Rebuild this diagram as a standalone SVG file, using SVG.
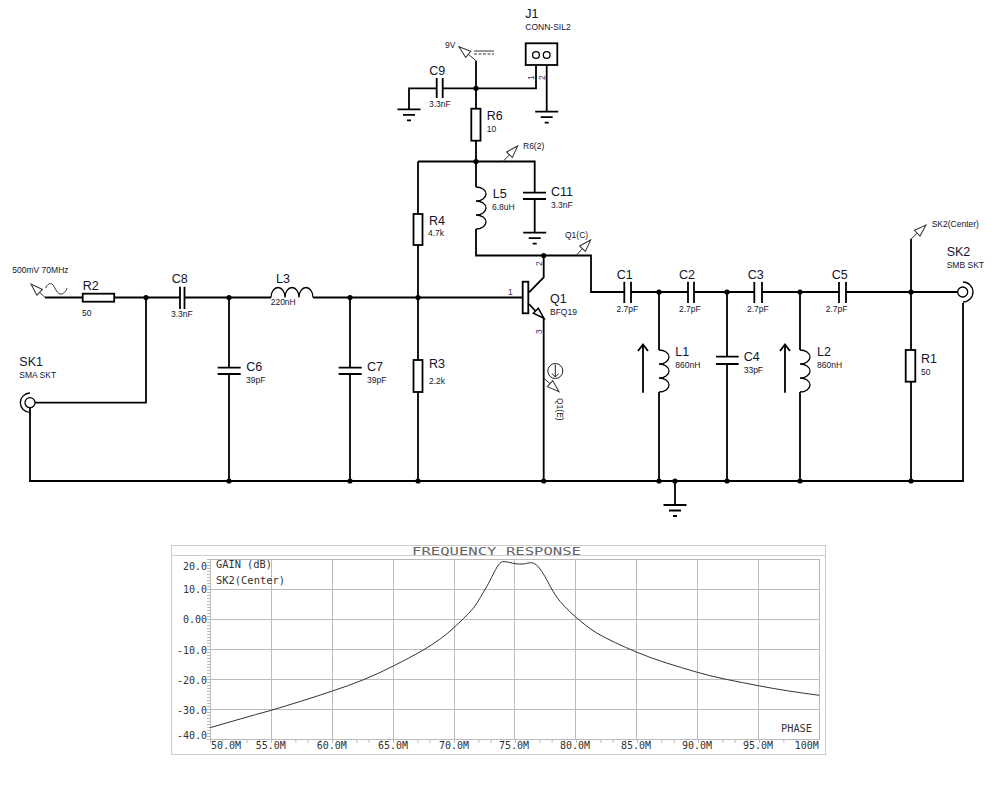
<svg xmlns="http://www.w3.org/2000/svg" width="1006" height="811" viewBox="0 0 1006 811">
<style>
text{font-family:"Liberation Sans",Arial,sans-serif;fill:#14142e}
.n{font-size:12.5px}
.v{font-size:8.5px}
.p{font-size:8.5px;fill:#3a2a6a}
.w{fill:none;stroke:#000;stroke-width:1.8}
.s{fill:#fff;stroke:#000;stroke-width:1.8}
.l{fill:none;stroke:#000;stroke-width:1.300}
.pr{fill:none;stroke:#333;stroke-width:1;marker-end:url(#probe)}
.g{fill:none;stroke:#bbb;stroke-width:1}
.o{fill:none;stroke:#ccc;stroke-width:1}
.m{font-family:"DejaVu Sans Mono",monospace;font-size:10px;fill:#333}
.t{font-family:"DejaVu Sans Mono",monospace;font-size:10px;fill:#666}
</style>
<defs>
<marker id="probe" markerUnits="userSpaceOnUse" markerWidth="14" markerHeight="10" viewBox="-1 -1 14 10" refX="12" refY="4" orient="auto"><path d="M0,0 L12,4 L0,8 Z" fill="#fff" stroke="#333" stroke-width="1"/></marker>
<g id="gnd"><path class="w" d="M-11.500,0 H11.500 M-6,5.500 H6 M-2,11 H2"/></g>
<circle id="j" r="2.600" fill="#000"/>
<path id="ind" class="l" d="M0,0 a10,7 0 0 1 0,14 a10,7 0 0 1 0,14 a10,7 0 0 1 0,14"/>
</defs>
<g id="connectors">
<path class="w" d="M45,297.500 H82.500 M114,297.500 H180 M184.500,297.500 H271 M313,297.500 H522.700"/>
<path class="w" d="M146,297.500 V402.700 H35 M30,408 V481 H963 V303"/>
<path class="w" d="M229,297.500 V367.700 M229,374 V481 M350,297.500 V367.700 M350,374 V481"/>
<path class="w" d="M418,161.500 V214 M418,245 V360 M418,392 V481"/>
<path class="w" d="M476,60.700 V108.700 M476,140.700 V187 M476,229 V255.500 H591 V292 H624.300 M631,292 H688 M694,292 H754.300 M762,292 H839 M846,292 H957.500"/>
<path class="w" d="M418,161.500 H534.700 V192.700 M534.700,199 V232.700"/>
<path class="w" d="M409,109.300 V88.300 H436.700 M442.700,88.300 H536 V58.500 M546.700,58.500 V111.700"/>
<path class="w" d="M543.700,255.500 V277.300 L529,292.300 M543.700,318.300 V481"/>
<path class="w" d="M659,292 V350 M659,392 V481 M727,292 V356.700 M727,364 V481 M800,292 V350 M800,392 V481 M911,239 V350 M911,382 V481 M675,481 V505"/>
<path class="pr" d="M476,60.700 L459,46.700"/>
<path class="pr" d="M503,161.500 L517.700,146"/>
<path class="pr" d="M576,255.500 L590.700,240"/>
<path class="pr" d="M543.700,378 L559,391.700"/>
<path class="pr" d="M911,239 L926,225"/>
<path class="pr" d="M45,297.500 L31,284"/>
<g fill="#000">
<use href="#j" x="146" y="297.500"/><use href="#j" x="229" y="297.500"/><use href="#j" x="350" y="297.500"/><use href="#j" x="418" y="297.500"/>
<use href="#j" x="476" y="88.300"/><use href="#j" x="476" y="161.500"/><use href="#j" x="543.700" y="255.500"/>
<use href="#j" x="659" y="292"/><use href="#j" x="727" y="292"/><use href="#j" x="800" y="292"/><use href="#j" x="911" y="292"/>
<use href="#j" x="229" y="481"/><use href="#j" x="350" y="481"/><use href="#j" x="418" y="481"/><use href="#j" x="543.700" y="481"/><use href="#j" x="659" y="481"/><use href="#j" x="675" y="481"/><use href="#j" x="727" y="481"/><use href="#j" x="800" y="481"/><use href="#j" x="911" y="481"/>
</g>
</g>
<g id="V1"><path fill="none" stroke="#333" d="M45.700,288 C47,284 50,283 52,284 C55,286 56,293 60,294 C63,294.500 66,292 67,288"/><text class="v" x="12.300" y="273">500mV 70MHz</text></g>
<g id="R2"><rect class="s" x="82.700" y="293.700" width="31.500" height="8"/><text class="n" x="82.700" y="290">R2</text><text class="v" x="82" y="316">50</text></g>
<g id="C8"><path class="w" d="M180,286.700 V309 M184.500,286.700 V309"/><text class="n" x="171.700" y="283">C8</text><text class="v" x="171" y="316.700">3.3nF</text></g>
<g id="L3"><path class="l" d="M271,297.500 a7,10 0 0 1 14,0 a7,10 0 0 1 14,0 a7,10 0 0 1 14,0"/><text class="n" x="276" y="283.300">L3</text><text class="v" x="270.700" y="305.300">220nH</text></g>
<g id="SK1"><circle class="l" cx="30" cy="402.700" r="5"/><path class="l" d="M30,393 A9.700,9.700 0 0 0 30,412.400"/><text class="n" x="19.300" y="366">SK1</text><text class="v" x="19.300" y="378">SMA SKT</text></g>
<g id="C6"><path class="w" d="M217.700,367.700 H240.700 M217.700,374 H240.700"/><text class="n" x="246.300" y="370.700">C6</text><text class="v" x="246" y="382.700">39pF</text></g>
<g id="C7"><path class="w" d="M338.700,367.700 H361.700 M338.700,374 H361.700"/><text class="n" x="367" y="370.700">C7</text><text class="v" x="367" y="382.700">39pF</text></g>
<g id="R3"><rect class="s" x="413.500" y="360" width="9" height="32"/><text class="n" x="429" y="367.500">R3</text><text class="v" x="429" y="384">2.2k</text></g>
<g id="R4"><rect class="s" x="413.500" y="214" width="9" height="31"/><text class="n" x="429" y="225">R4</text><text class="v" x="428" y="236.300">4.7k</text></g>
<g id="R6"><rect class="s" x="471.300" y="108.700" width="9.200" height="32"/><text class="n" x="486.700" y="120">R6</text><text class="v" x="486.700" y="132">10</text></g>
<g id="C9"><path class="w" d="M436.700,78 V98 M442.700,78 V98"/><use href="#gnd" x="409" y="109.300"/><text class="n" x="429.300" y="75.300">C9</text><text class="v" x="429" y="107.300">3.3nF</text></g>
<g id="VDD"><text class="v" x="445" y="48">9V</text><path stroke="#333" stroke-width="1" fill="none" d="M474,51 H494"/><path stroke="#333" stroke-width="1" fill="none" stroke-dasharray="3 1.500" d="M474,54 H494"/></g>
<g id="J1"><rect x="525.700" y="43.300" width="31.600" height="21.700" fill="#fff" stroke="#000" stroke-width="1.800"/><circle class="s" style="stroke-width:1.300" cx="536" cy="55" r="3.400"/><circle class="s" style="stroke-width:1.300" cx="546.700" cy="55" r="3.400"/><use href="#gnd" x="546.700" y="111.700"/><text class="n" x="525.300" y="17.700">J1</text><text class="v" x="525.300" y="30">CONN-SIL2</text><text class="p" transform="translate(534,80) rotate(-90)">1</text><text class="p" transform="translate(544.500,80) rotate(-90)">2</text></g>
<g id="L5"><use href="#ind" x="476" y="187"/><text class="n" x="492.700" y="197.700">L5</text><text class="v" x="492" y="210.300">6.8uH</text></g>
<g id="C11"><path class="w" d="M523,192.700 H546 M523,199 H546"/><use href="#gnd" x="534.700" y="232.700"/><text class="n" x="551" y="195.700">C11</text><text class="v" x="551" y="207.700">3.3nF</text><text class="v" x="523" y="149">R6(2)</text></g>
<g id="Q1"><rect class="s" x="522.700" y="281.700" width="5.600" height="31.600"/><path class="w" d="M529,304 L535.500,311"/><path class="s" style="stroke-width:1.500" d="M544,318.300 L538.300,308.300 L533.300,313.300 Z"/><text class="n" x="550" y="303.300">Q1</text><text class="v" x="550" y="314.700">BFQ19</text><text class="p" x="508" y="295">1</text><text class="p" transform="translate(541.500,266) rotate(-90)">2</text><text class="p" transform="translate(541.500,334) rotate(-90)">3</text><text class="v" x="565" y="238">Q1(C)</text></g>
<g id="AM1"><circle cx="555.300" cy="371" r="7.500" fill="#fff" stroke="#222" stroke-width="1"/><path fill="none" stroke="#222" stroke-width="1" d="M555.300,364.500 V377 M552,373.500 L555.300,377 L558.600,373.500"/><text class="v" transform="translate(557,398) rotate(90)">Q1(E)</text></g>
<g id="C1"><path class="w" d="M624.300,281.700 V303 M631,281.700 V303"/><text class="n" x="616.700" y="278.700">C1</text><text class="v" x="616.500" y="311.700">2.7pF</text></g>
<g id="L1"><use href="#ind" x="659" y="350"/><path class="w" d="M643,392.700 V345 M638,351 L643,344.500 L648,351"/><text class="n" x="675.300" y="356">L1</text><text class="v" x="675.300" y="367.700">860nH</text></g>
<g id="C2"><path class="w" d="M688,281.700 V303 M694,281.700 V303"/><text class="n" x="679" y="278.700">C2</text><text class="v" x="679" y="311.700">2.7pF</text></g>
<g id="C3"><path class="w" d="M754.300,282 V303 M762,282 V303"/><text class="n" x="747.700" y="279">C3</text><text class="v" x="747" y="311.700">2.7pF</text></g>
<g id="C4"><path class="w" d="M716,356.700 H738.700 M716,364 H738.700"/><text class="n" x="743.700" y="360.700">C4</text><text class="v" x="743.700" y="372.700">33pF</text></g>
<g id="L2"><use href="#ind" x="800" y="350"/><path class="w" d="M785,392.700 V345 M780,351 L785,344.500 L790,351"/><text class="n" x="817" y="356">L2</text><text class="v" x="817" y="367.700">860nH</text></g>
<g id="C5"><path class="w" d="M839,282 V303 M846,282 V303"/><text class="n" x="831.700" y="279">C5</text><text class="v" x="825.700" y="311.700">2.7pF</text></g>
<g id="R1"><rect class="s" x="905.700" y="350" width="9.600" height="31.700"/><text class="n" x="921" y="363">R1</text><text class="v" x="921" y="375">50</text></g>
<g id="SK2"><circle class="l" cx="962.700" cy="292" r="5"/><path class="l" d="M963,282 A10,10 0 0 1 963,302"/><text class="n" x="946.700" y="256">SK2</text><text class="v" x="946.700" y="268">SMB SKT</text><text class="v" x="931.700" y="227">SK2(Center)</text></g>
<g id="GND"><use href="#gnd" x="675" y="505"/></g>
<g id="graph">
<rect class="o" x="171.500" y="545.500" width="654" height="209"/>
<path class="o" d="M171.500,555.500 H825.500"/>
<rect class="g" x="210.500" y="559.500" width="609" height="180"/>
<path class="g" d="M271.500,559 V740 M332.500,559 V740 M393.500,559 V740 M454.500,559 V740 M514.500,559 V740 M575.500,559 V740 M636.500,559 V740 M697.500,559 V740 M758.500,559 V740 M210,589.500 H820 M210,619.500 H820 M210,649.500 H820 M210,679.500 H820 M210,709.500 H820"/>
<path class="g" stroke-dasharray="1 2" style="stroke-width:3" d="M208.500,559 V740"/>
<path class="g" stroke-dasharray="1 11.200" style="stroke-width:3" d="M210,741.500 H820"/>
<path fill="none" stroke="#333" stroke-width="1" d="M210,727.700 C230,722 250,716 271.300,710.300 C292,704 312,698 332.300,691 C354,684 374,676 393.300,666 C405,660 413,656 423.300,650 C435,643 445,636 454.300,627.300 C458,624 460,622 463.300,618.700 C467,615 470,612 473.300,608.300 C479,601 482,594 486.700,586.700 C491,579 495,570 498.300,565 C500,563 502,561 505,561.700 C509,562 511,563 515,563.700 C518,564 521,564.200 523.300,564 C526,563.700 529,562.500 531.700,562.700 C534,563 536,564.500 538.300,566.700 C541,570 543,573 545,576.700 C548,582 550,586 553.300,591.700 C556,596 559,600.500 563.300,605 C567,609 571,613 575.300,616.700 C582,622 588,628 596.700,633 C608,639.500 622,646 636.300,652 C656,660.300 676,666 697.300,672.300 C717,678 737,681.500 758.300,685.700 C778,689.500 798,692.500 819.300,695.300"/>
<text class="t" x="412" y="555" textLength="169" lengthAdjust="spacingAndGlyphs">FREQUENCY RESPONSE</text>
<text class="m" x="216" y="568" textLength="56" lengthAdjust="spacingAndGlyphs">GAIN (dB)</text>
<text class="m" x="216" y="584" textLength="69" lengthAdjust="spacingAndGlyphs">SK2(Center)</text>
<g text-anchor="end">
<text class="m" x="207" y="569.500">20.0</text><text class="m" x="207" y="593">10.0</text><text class="m" x="207" y="623">0.00</text><text class="m" x="207" y="653.500">-10.0</text><text class="m" x="207" y="683.500">-20.0</text><text class="m" x="207" y="713.500">-30.0</text><text class="m" x="207" y="738.500">-40.0</text>
</g>
<g text-anchor="middle">
<text class="m" x="226" y="749">50.0M</text><text class="m" x="270.700" y="749">55.0M</text><text class="m" x="331.700" y="749">60.0M</text><text class="m" x="393" y="749">65.0M</text><text class="m" x="454" y="749">70.0M</text><text class="m" x="514" y="749">75.0M</text><text class="m" x="575" y="749">80.0M</text><text class="m" x="636" y="749">85.0M</text><text class="m" x="697" y="749">90.0M</text><text class="m" x="758" y="749">95.0M</text><text class="m" x="806.700" y="749">100M</text>
</g>
<text class="m" x="781" y="732" textLength="31" lengthAdjust="spacingAndGlyphs">PHASE</text>
</g>
</svg>
